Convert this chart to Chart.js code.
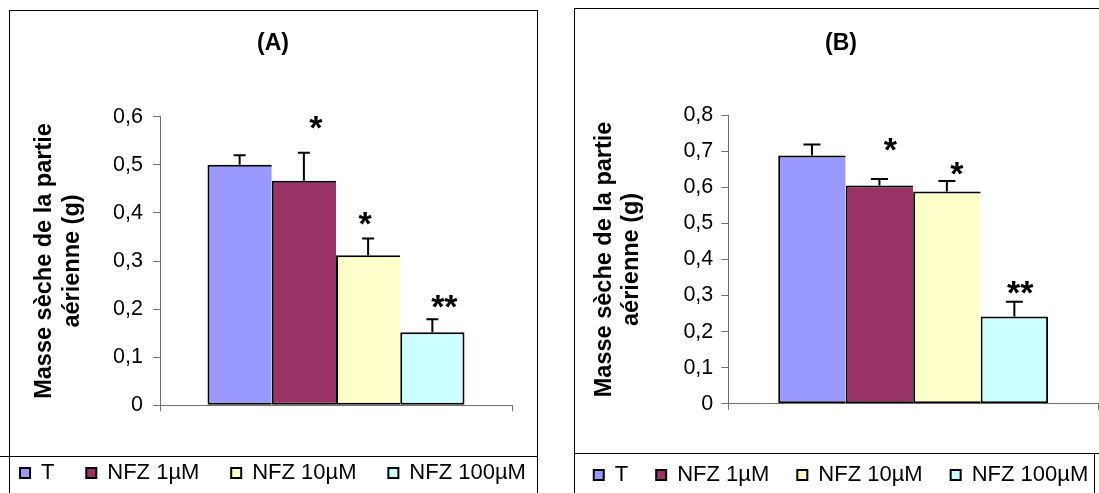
<!DOCTYPE html>
<html>
<head>
<meta charset="utf-8">
<script src="https://cdn.jsdelivr.net/npm/chart.js@4.4.1/dist/chart.umd.min.js"></script>
<style>
  html, body { margin: 0; padding: 0; background: #fff; }
  body { width: 1099px; height: 493px; position: relative; overflow: hidden; }
  .frame { position: absolute; border: 1px solid #000; box-sizing: border-box; }
  .rule  { position: absolute; background: #000; }
  canvas { position: absolute; }
</style>
</head>
<body>
<div class="frame" style="left:9px; top:10px; width:529px; height:500px;"></div>
<div class="frame" style="left:574px; top:8px; width:560px; height:500px;"></div>
<div class="rule" style="left:0; top:456px; width:538px; height:1px;"></div>
<div class="rule" style="left:574px; top:453px; width:525px; height:1px;"></div>
<div class="rule" style="left:1094px; top:453px; width:1px; height:40px;"></div>
<canvas id="chartA" width="580" height="484" style="left:-17px; top:10px;"></canvas>
<canvas id="chartB" width="570" height="488" style="left:556px; top:8px;"></canvas>
<script>
const FONT      = '"Liberation Sans", Arial, sans-serif';
const AXIS_GREY = '#707070';

const categories = ['T', 'NFZ 1µM', 'NFZ 10µM', 'NFZ 100µM'];
const barColors  = ['#9999ff', '#993366', '#ffffcc', '#ccffff'];
const yLabel     = ['Masse sèche de la partie', 'aérienne (g)'];

// Panel (A)
const titleA  = '(A)';
const massA   = [0.500, 0.467, 0.312, 0.152];
const sdA     = [0.020, 0.058, 0.035, 0.027];
const starsA  = ['', '*', '*', '**'];
const starAtA = [null, 0.588, 0.389, 0.215];
const yTicksA = ['0', '0,1', '0,2', '0,3', '0,4', '0,5', '0,6'];
const yMaxA   = 0.6;

// Panel (B)
const titleB  = '(B)';
const massB   = [0.688, 0.605, 0.588, 0.242];
const sdB     = [0.030, 0.018, 0.029, 0.041];
const starsB  = ['', '*', '*', '**'];
const starAtB = [null, 0.717, 0.652, 0.321];
const yTicksB = ['0', '0,1', '0,2', '0,3', '0,4', '0,5', '0,6', '0,7', '0,8'];
const yMaxB   = 0.8;

// box sizes per panel (canvas pixels)
const layoutA = {
  yWidth: 177, padRight: 51, xHeight: 24.9, yTitlePad: 48.5, tickPad: 10,
  titleTop: 20.2, titleBottom: 58.9, legendPad: 31.8, cap: 12, starDx: [0, 12, -3, 12],
};
const layoutB = {
  yWidth: 172.3, padRight: 28, xHeight: 32.2, yTitlePad: 35.2, tickPad: 8,
  titleTop: 21.5, titleBottom: 57.9, legendPad: 28, cap: 17, starDx: [0, 11, 10, 6],
};

// + error bars with a cap, and the significance stars
const errorBars = {
  id: 'errorBars',
  afterDatasetsDraw(chart, args, opts) {
    const { ctx } = chart;
    const y = chart.scales.y;
    ctx.save();
    chart.data.datasets.forEach((ds, i) => {
      const bar = chart.getDatasetMeta(i).data[0];
      if (!bar) return;
      const top = y.getPixelForValue(ds.data[0] + ds.errorPlus);
      ctx.strokeStyle = '#000';
      ctx.lineWidth = 2;
      ctx.beginPath();
      ctx.moveTo(bar.x, bar.y);
      ctx.lineTo(bar.x, top);
      ctx.moveTo(bar.x - opts.cap / 2, top);
      ctx.lineTo(bar.x + opts.cap / 2, top);
      ctx.stroke();

      if (ds.star) {
        ctx.font = 'bold 34px ' + FONT;
        ctx.fillStyle = '#000';
        ctx.textAlign = 'center';
        ctx.textBaseline = 'alphabetic';
        const m  = ctx.measureText(ds.star);
        const cy = y.getPixelForValue(ds.starAt);
        ctx.fillText(ds.star, bar.x + ds.starDx,
          cy + (m.actualBoundingBoxAscent - m.actualBoundingBoxDescent) / 2);
      }
    });
    ctx.restore();
  },
};

function makeChart(id, title, values, sd, stars, starAt, yTicks, yMax, L) {
  const last = categories.length - 1;
  const datasets = categories.map((name, i) => ({
    label:              name,
    data:               [values[i]],
    errorPlus:          sd[i],
    star:               stars[i],
    starAt:             starAt[i],
    starDx:             L.starDx[i],
    backgroundColor:    barColors[i],
    borderColor:        '#000',
    borderWidth:        { top: 2, left: 2, bottom: 2, right: i === last ? 2 : 0 },
    borderSkipped:      false,
    categoryPercentage: 0.73,
    barPercentage:      1,
  }));

  return new Chart(document.getElementById(id), {
    type: 'bar',
    data: { labels: [''], datasets },
    plugins: [errorBars],
    options: {
      responsive:       false,
      animation:        false,
      devicePixelRatio: 1,
      events:           [],
      layout:           { padding: 0 },
      plugins: {
        title: {
          display: true,
          text:    title,
          color:   '#000',
          font:    { family: FONT, size: 23, weight: 'bold', lineHeight: 1.2 },
          padding: { top: L.titleTop, bottom: L.titleBottom },
        },
        legend: {
          position: 'bottom',
          labels: {
            color:     '#000',
            font:      { family: FONT, size: 22 },
            boxWidth:  10,
            boxHeight: 10,
            padding:   L.legendPad,
            generateLabels: (chart) =>
              Chart.defaults.plugins.legend.labels.generateLabels(chart)
                .map((l) => ({ ...l, lineWidth: 2, strokeStyle: '#000' })),
          },
        },
        tooltip:   { enabled: false },
        errorBars: { cap: L.cap },
      },
      scales: {
        x: {
          ticks:  { display: false },
          grid:   { drawOnChartArea: false, tickLength: 6, color: AXIS_GREY, offset: true },
          border: { color: AXIS_GREY, width: 1 },
          afterFit: (s) => { s.height = L.xHeight; },
        },
        y: {
          min: 0,
          max: yMax,
          ticks: {
            stepSize: 0.1,
            color:    '#000',
            padding:  L.tickPad,
            font:     { family: FONT, size: 21.5 },
            callback: (v, i) => yTicks[i],
          },
          grid:   { drawOnChartArea: false, tickLength: 7, color: AXIS_GREY },
          border: { color: AXIS_GREY, width: 1 },
          title: {
            display: true,
            text:    yLabel,
            color:   '#000',
            font:    { family: FONT, size: 23.5, weight: 'bold', lineHeight: 1.15 },
            padding: { top: L.yTitlePad, bottom: 0 },
          },
          afterFit: (s) => { s.width = L.yWidth; },
        },
        pad: {
          type:     'linear',
          position: 'right',
          grid:     { display: false },
          ticks:    { display: false },
          border:   { display: false },
          afterFit: (s) => { s.width = L.padRight; },
        },
      },
    },
  });
}

makeChart('chartA', titleA, massA, sdA, starsA, starAtA, yTicksA, yMaxA, layoutA);
makeChart('chartB', titleB, massB, sdB, starsB, starAtB, yTicksB, yMaxB, layoutB);
</script>
</body>
</html>
